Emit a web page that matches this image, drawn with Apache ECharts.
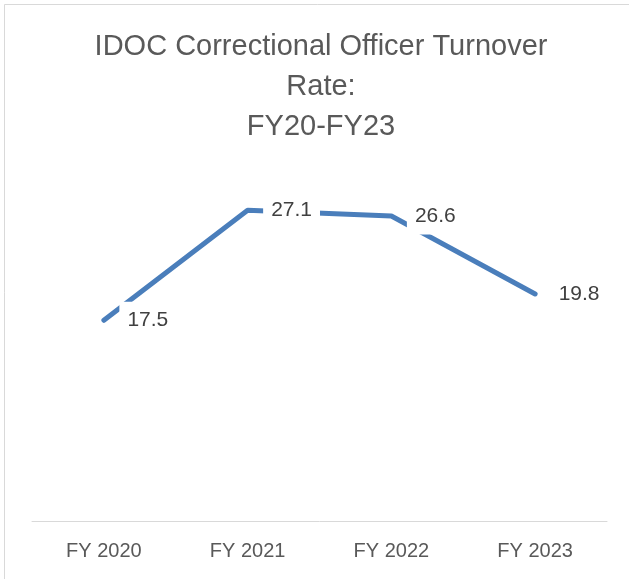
<!DOCTYPE html>
<html lang="en">
<head>
    <meta charset="UTF-8">
    <title>IDOC Correctional Officer Turnover Rate</title>
    <script src="https://cdn.jsdelivr.net/npm/echarts@6/dist/echarts.min.js"></script>
    <style>
        html, body { margin: 0; padding: 0; background: #fff; }
        #chart { width: 629px; height: 579px; }
    </style>
</head>
<body>
    <div id="chart"></div>
    <script type="text/javascript">
        // 数据
        var categories = ['FY 2020', 'FY 2021', 'FY 2022', 'FY 2023'];
        var turnoverRate = [17.5, 27.1, 26.6, 19.8];

        var myChart = echarts.init(document.getElementById('chart'));

        var option = {
            backgroundColor: '#fff',
            textStyle: { fontFamily: 'Liberation Sans' },
            title: {
                text: 'IDOC Correctional Officer Turnover\nRate:\nFY20-FY23',
                left: 316,
                textAlign: 'center',
                top: 22,
                textStyle: {
                    fontSize: 29,
                    fontWeight: 'normal',
                    color: '#595959',
                    lineHeight: 40
                }
            },
            // 外框
            graphic: [{
                type: 'rect',
                shape: { x: 4.5, y: 4.5, width: 800, height: 800 },
                style: { fill: 'none', stroke: '#d9d9d9', lineWidth: 1 },
                silent: true
            }],
            grid: {
                left: 32,
                right: 22,
                top: 177,
                bottom: 58
            },
            xAxis: {
                type: 'category',
                data: categories,
                boundaryGap: true,
                axisLine: { lineStyle: { color: '#d9d9d9', width: 1 } },
                axisTick: { show: false },
                axisLabel: {
                    margin: 20,
                    fontSize: 20,
                    color: '#595959'
                }
            },
            yAxis: {
                type: 'value',
                min: 0,
                max: 30,
                show: false,
                splitLine: { show: false }
            },
            series: [{
                type: 'line',
                data: turnoverRate,
                symbol: 'circle',
                symbolSize: 1,
                itemStyle: { color: '#4a7ebb' },
                lineStyle: {
                    color: '#4a7ebb',
                    width: 5,
                    cap: 'round'
                },
                label: {
                    show: true,
                    position: 'right',
                    distance: 15,
                    fontSize: 21,
                    color: '#404040',
                    backgroundColor: '#fff',
                    padding: [8, 8]
                },
                animation: false
            }]
        };

        myChart.setOption(option);
    </script>
</body>
</html>
